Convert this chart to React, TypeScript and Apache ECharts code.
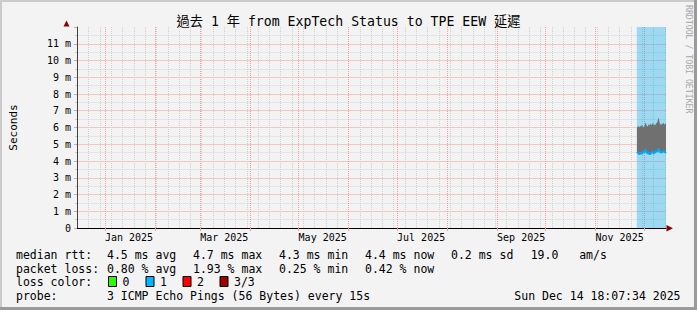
import React, { useEffect, useRef } from 'react';
import * as echarts from 'echarts';

const START = '2024-12-14T18:07:34';
const END = '2025-12-14T18:07:34';
const DATA_START = '2025-11-26T16:00:00';

const MONTH_STARTS = [
  '2025-01-01', '2025-02-01', '2025-03-01', '2025-04-01', '2025-05-01', '2025-06-01',
  '2025-07-01', '2025-08-01', '2025-09-01', '2025-10-01', '2025-11-01', '2025-12-01',
];
const LABEL_DATES = ['2025-01-16', '2025-03-16', '2025-05-16', '2025-07-16', '2025-09-16', '2025-11-16'];
const LABEL_TEXTS = ['Jan 2025', 'Mar 2025', 'May 2025', 'Jul 2025', 'Sep 2025', 'Nov 2025'];
const FIRST_SUNDAY = '2024-12-15';
const Y_MAJOR = [1, 2, 3, 4, 5, 6, 7, 8, 9, 10, 11];
const Y_MINOR = [0.5, 1.5, 2.5, 3.5, 4.5, 5.5, 6.5, 7.5, 8.5, 9.5, 10.5, 11.5];

const TIMES = [
  '2025-11-26T18:00:00', '2025-11-27T06:00:00', '2025-11-27T18:00:00', '2025-11-28T06:00:00',
  '2025-11-28T18:00:00', '2025-11-29T06:00:00', '2025-11-29T18:00:00', '2025-11-30T06:00:00',
  '2025-11-30T18:00:00', '2025-12-01T06:00:00', '2025-12-01T18:00:00', '2025-12-02T06:00:00',
  '2025-12-02T18:00:00', '2025-12-03T06:00:00', '2025-12-03T18:00:00', '2025-12-04T06:00:00',
  '2025-12-04T18:00:00', '2025-12-05T06:00:00', '2025-12-05T18:00:00', '2025-12-06T06:00:00',
  '2025-12-06T18:00:00', '2025-12-07T06:00:00', '2025-12-07T18:00:00', '2025-12-08T06:00:00',
  '2025-12-08T18:00:00', '2025-12-09T06:00:00', '2025-12-09T18:00:00', '2025-12-10T06:00:00',
  '2025-12-10T18:00:00', '2025-12-11T06:00:00', '2025-12-11T18:00:00', '2025-12-12T06:00:00',
  '2025-12-12T18:00:00', '2025-12-13T06:00:00', '2025-12-13T18:00:00', '2025-12-14T06:00:00',
  '2025-12-14T18:00:00',
];
// median rtt (ms)
const MEDIAN = [
  4.55, 4.5, 4.45, 4.4, 4.45, 4.5, 4.42, 4.5, 4.55, 4.5, 4.6, 4.68, 4.55, 4.45, 4.5, 4.45,
  4.4, 4.45, 4.5, 4.55, 4.5, 4.45, 4.5, 4.55, 4.6, 4.55, 4.65, 4.75, 4.6, 4.5, 4.55, 4.5,
  4.55, 4.6, 4.55, 4.5, 4.55,
];
// max rtt of the smoke (ms)
const MAX_RTT = [
  6.0, 6.05, 6.1, 6.0, 6.1, 6.05, 6.15, 6.1, 6.0, 6.05, 6.2, 6.3, 6.1, 6.05, 6.15, 6.2,
  6.1, 6.25, 6.15, 6.2, 6.3, 6.1, 6.2, 6.15, 6.25, 6.3, 6.45, 6.6, 6.3, 6.2, 6.15, 6.25,
  6.2, 6.3, 6.15, 6.25, 6.2,
];

const LEGEND_ROWS = [
  { head: 'median rtt:', items: ['4.5 ms avg', '4.7 ms max', '4.3 ms min', '4.4 ms now', '0.2 ms sd', '19.0   am/s'] },
  { head: 'packet loss:', items: ['0.80 % avg', '1.93 % max', '0.25 % min', '0.42 % now'] },
];
const LOSS_COLORS = [
  { label: '0', color: '#26ff00' },
  { label: '1', color: '#00b8ff' },
  { label: '2', color: '#ff0000' },
  { label: '3/3', color: '#a00000' },
];
const PROBE_TEXT = '3 ICMP Echo Pings (56 Bytes) every 15s';
const DATE_TEXT = 'Sun Dec 14 18:07:34 2025';
const TITLE = '過去 1 年 from ExpTech Status to TPE EEW 延遲';

const ts = (s: string) => Date.parse(s.length === 10 ? s + 'T00:00:00Z' : s + 'Z');

const MONO = '"DejaVu Sans Mono", "Noto Sans CJK TC", monospace';

export default function App() {
  const ref = useRef<HTMLDivElement>(null);
  useEffect(() => {
    if (!ref.current) return;
    const chart = echarts.init(ref.current, undefined, { renderer: 'svg' });

    const startT = ts(START);
    const endT = ts(END);
    const monthT = MONTH_STARTS.map(ts);
    const labelT = LABEL_DATES.map(ts);
    const sundays: number[] = [];
    for (let t = ts(FIRST_SUNDAY); t <= endT; t += 7 * 864e5) sundays.push(t);

    const timesT = TIMES.map(ts);
    const smokeData = timesT.map((t, i) => [t, MEDIAN[i], MAX_RTT[i]]);
    const medianData = timesT.map((t, i) => [t, MEDIAN[i]]);

    const MAJOR = '#f0a0a0';
    const MINOR = '#cfcfcf';
    const dot = (color: string) => ({ color, type: [1, 1], width: 1 });
    const flat = (color: string) => ({ color, type: 'solid', width: 1 });

    const gridLines = [
      ...Y_MINOR.map((v) => ({ yAxis: v, lineStyle: flat('#e4e4e4') })),
      ...sundays.map((t) => ({ xAxis: t, lineStyle: dot(MINOR) })),
      ...Y_MAJOR.map((v) => ({ yAxis: v, lineStyle: flat('#f6c6c6') })),
      ...monthT.map((t) => ({ xAxis: t, lineStyle: dot(MAJOR) })),
    ];

    const colX = [107, 193, 279, 365, 451, 530.7];
    const rowY = [254.5, 268.5, 282, 295.5];
    const textEl = (text: string, x: number, y: number, align = 'left', size = 11.5) => ({
      type: 'text',
      x,
      y,
      silent: true,
      style: {
        text,
        fill: '#000',
        fontSize: size,
        fontFamily: MONO,
        textAlign: align,
        textVerticalAlign: 'middle',
      },
    });

    const graphics: any[] = [];
    graphics.push({ type: 'rect', shape: { x: 0, y: 0, width: 697, height: 2 }, style: { fill: '#cbcbcb' }, silent: true });
    graphics.push({ type: 'rect', shape: { x: 0, y: 0, width: 2, height: 310 }, style: { fill: '#cbcbcb' }, silent: true });
    graphics.push({ type: 'rect', shape: { x: 694, y: 0, width: 3, height: 310 }, style: { fill: '#9a9a9a' }, silent: true });
    graphics.push({ type: 'rect', shape: { x: 0, y: 307, width: 697, height: 3 }, style: { fill: '#9a9a9a' }, silent: true });
    graphics.push({
      type: 'polygon', silent: true, z: 10,
      shape: { points: [[63.5, 26.5], [66.5, 20.5], [69.5, 26.5]] },
      style: { fill: '#8b0000' },
    });
    graphics.push({
      type: 'polygon', silent: true, z: 10,
      shape: { points: [[666.5, 225], [673, 228.3], [666.5, 231.6]] },
      style: { fill: '#8b0000' },
    });
    graphics.push({
      type: 'text', x: 688.5, y: 5, rotation: -Math.PI / 2, silent: true,
      style: { text: 'RRDTOOL / TOBI OETIKER', fill: '#a8a8a8', fontSize: 8.2, fontFamily: MONO, textAlign: 'left', textVerticalAlign: 'middle' },
    });
    LEGEND_ROWS.forEach((row, r) => {
      graphics.push(textEl(row.head, 16, rowY[r]));
      row.items.forEach((it, i) => graphics.push(textEl(it, colX[i], rowY[r])));
    });
    graphics.push(textEl('loss color:', 16, rowY[2]));
    const boxX = [108, 145.5, 182.5, 219.5];
    LOSS_COLORS.forEach((lc, i) => {
      graphics.push({
        type: 'rect', silent: true,
        shape: { x: boxX[i] + 0.5, y: rowY[2] - 5.5, width: 8, height: 10 },
        style: { fill: lc.color, stroke: '#000', lineWidth: 1 },
      });
      graphics.push(textEl(lc.label, boxX[i] + 14.5, rowY[2]));
    });
    graphics.push(textEl('probe:', 16, rowY[3]));
    graphics.push(textEl(PROBE_TEXT, 107, rowY[3]));
    graphics.push(textEl(DATE_TEXT, 680.5, rowY[3], 'right'));

    chart.setOption({
      animation: false,
      backgroundColor: '#f3f3f3',
      title: {
        text: TITLE,
        left: 'center',
        top: 14,
        padding: 0,
        textStyle: { fontSize: 13.2, fontWeight: 'normal', fontFamily: MONO, color: '#000', lineHeight: 14 },
      },
      grid: { left: 66, top: 27, width: 600, height: 201, containLabel: false },
      xAxis: {
        type: 'value',
        min: startT,
        max: endT,
        z: 6,
        axisLine: { show: true, lineStyle: { color: '#000', width: 1 } },
        axisTick: { show: true, customValues: monthT, length: 3, lineStyle: { color: MAJOR } },
        axisLabel: {
          customValues: labelT,
          formatter: (v: number) => {
            const i = labelT.indexOf(v);
            return i >= 0 ? LABEL_TEXTS[i] : '';
          },
          fontSize: 10,
          fontFamily: MONO,
          color: '#000',
          margin: 4,
          hideOverlap: false,
        },
        splitLine: { show: false },
        minorTick: { show: false },
      },
      yAxis: {
        type: 'value',
        min: 0,
        max: 12,
        interval: 1,
        z: 6,
        name: 'Seconds',
        nameLocation: 'middle',
        nameGap: 58,
        nameRotate: 90,
        nameTextStyle: { fontSize: 11, fontFamily: MONO, color: '#000' },
        axisLine: { show: true, lineStyle: { color: '#404040', width: 1 } },
        axisTick: { show: true, length: 3, lineStyle: { color: MAJOR } },
        minorTick: { show: true, splitNumber: 2, length: 2, lineStyle: { color: MINOR } },
        splitLine: { show: false },
        minorSplitLine: { show: false },
        axisLabel: {
          formatter: (v: number) => (v === 0 ? '0' : v >= 12 ? '' : v + ' m'),
          fontSize: 10,
          fontFamily: MONO,
          color: '#000',
          margin: 6,
        },
      },
      series: [
        {
          name: 'range',
          type: 'line',
          data: [],
          symbol: 'none',
          z: 1,
          silent: true,
          markArea: {
            silent: true,
            z: 2,
            itemStyle: { color: 'rgba(0,170,240,0.35)' },
            data: [[{ xAxis: ts(DATA_START) }, { xAxis: endT }]],
          },
          markLine: {
            silent: true,
            z: 1,
            symbol: ['none', 'none'],
            label: { show: false },
            animation: false,
            data: gridLines,
          },
        },
        {
          name: 'smoke',
          type: 'custom',
          data: smokeData,
          encode: { x: 0, y: [1, 2] },
          z: 3,
          silent: true,
          renderItem: (params: any, api: any) => {
            if (params.dataIndex !== 0) return null;
            const top = smokeData.map((d) => api.coord([d[0], d[2]]));
            const bottom = smokeData.map((d) => api.coord([d[0], d[1]])).reverse();
            return {
              type: 'polygon',
              shape: { points: top.concat(bottom) },
              style: { fill: '#707070', stroke: 'none' },
            };
          },
        },
        {
          name: 'median',
          type: 'line',
          data: medianData,
          symbol: 'none',
          lineStyle: { width: 2, color: '#08a8f0' },
          z: 4,
          silent: true,
        },
      ],
      graphic: { elements: graphics },
    });

    return () => chart.dispose();
  }, []);

  return <div ref={ref} style={{ position: 'fixed', left: 0, top: 0, width: 697, height: 310 }} />;
}
